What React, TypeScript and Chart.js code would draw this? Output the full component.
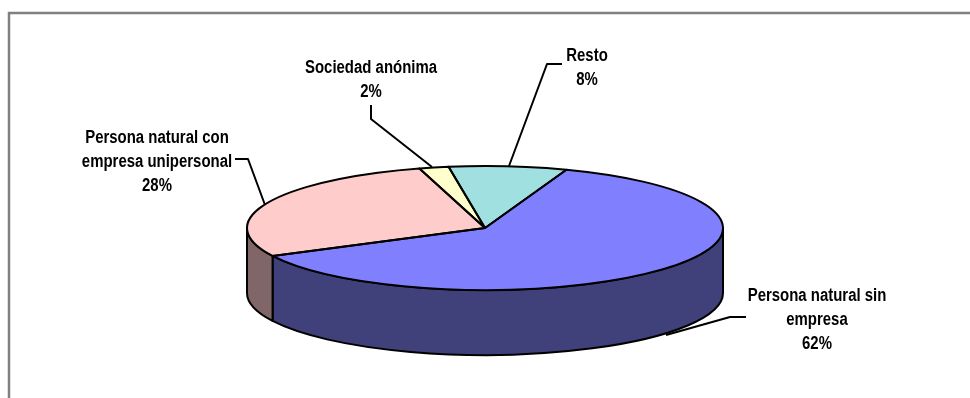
import React, { useEffect, useRef } from "react";
import { Chart, registerables } from "chart.js";

Chart.register(...registerables);

const categories = ["Persona natural sin empresa", "Persona natural con empresa unipersonal", "Sociedad anónima", "Resto"];
const labelLines = [["Persona natural sin", "empresa"], ["Persona natural con", "empresa unipersonal"], ["Sociedad anónima"], ["Resto"]];
const values = [62, 28, 2, 8];
const topColors = ["#8080FF", "#FFCCCC", "#FFFFCC", "#A0E0E0"];
const sideColors = ["#40407A", "#806666", "#808066", "#507070"];
const startRotation = 20;

const labelCenters = [[817, 296], [157, 138], [371, 68], [587, 56]];
const leaders = [
  [[746, 317], [730, 317], [666, 335]],
  [[235, 159], [248, 159], [265, 205]],
  [[371, 105], [371, 119], [432, 167]],
  [[562, 64], [547, 64], [509, 166]],
];

const CX = 485, CY = 228, RX = 238, RY = 62, DEPTH = 65;
const FONT = "bold 18px 'Liberation Sans', Arial, sans-serif";
const NARROW = 0.83;
const LINE_HEIGHT = 24;

const pie3d = {
  id: "pie3d",
  beforeDatasetsDraw(chart: any) {
    const { ctx } = chart;
    const arcs = chart.getDatasetMeta(0).data;
    // frame: the reference shows only its left and top edges
    ctx.save();
    ctx.strokeStyle = "#808080";
    ctx.lineWidth = 2.5;
    ctx.beginPath();
    ctx.moveTo(9, 398);
    ctx.lineTo(9, 13);
    ctx.lineTo(970, 13);
    ctx.stroke();
    // side walls
    ctx.lineWidth = 2;
    ctx.strokeStyle = "#000";
    ctx.lineJoin = "round";
    arcs.forEach((arc: any, i: number) => {
      const segs: [number, number][] = [];
      const a = arc.startAngle, b = arc.endAngle;
      for (const k of [0, 2 * Math.PI]) {
        const s = Math.max(a, k), e = Math.min(b, k + Math.PI);
        if (e > s) segs.push([s, e]);
      }
      segs.forEach(([s, e]) => {
        ctx.beginPath();
        ctx.ellipse(CX, CY, RX, RY, 0, s, e, false);
        ctx.ellipse(CX, CY + DEPTH, RX, RY, 0, e, s, true);
        ctx.closePath();
        ctx.fillStyle = sideColors[i];
        ctx.fill();
        ctx.stroke();
      });
    });
    ctx.restore();
    // squash the library's round pie to the tilted ellipse
    const ref = arcs[0];
    ctx.save();
    ctx.translate(CX, CY);
    ctx.scale(RX / ref.outerRadius, RY / ref.outerRadius);
    ctx.translate(-ref.x, -ref.y);
  },
  afterDatasetsDraw(chart: any) {
    const { ctx } = chart;
    ctx.restore();
    const arcs = chart.getDatasetMeta(0).data;
    ctx.save();
    ctx.strokeStyle = "#000";
    ctx.lineWidth = 2;
    ctx.lineJoin = "round";
    arcs.forEach((arc: any) => {
      ctx.beginPath();
      ctx.moveTo(CX, CY);
      ctx.ellipse(CX, CY, RX, RY, 0, arc.startAngle, arc.endAngle, false);
      ctx.closePath();
      ctx.stroke();
    });
    // leaders
    leaders.forEach((pts) => {
      ctx.beginPath();
      pts.forEach(([x, y], j) => (j ? ctx.lineTo(x, y) : ctx.moveTo(x, y)));
      ctx.stroke();
    });
    // labels
    ctx.fillStyle = "#000";
    ctx.font = FONT;
    ctx.textAlign = "center";
    ctx.textBaseline = "middle";
    const total = values.reduce((p, c) => p + c, 0);
    labelLines.forEach((lines, i) => {
      const [x, y] = labelCenters[i];
      const all = [...lines, `${Math.round((values[i] / total) * 100)}%`];
      all.forEach((t, j) => {
        ctx.save();
        ctx.translate(x, y + j * LINE_HEIGHT);
        ctx.scale(NARROW, 1);
        ctx.fillText(t, 0, 0);
        ctx.restore();
      });
    });
    ctx.restore();
  },
};

export default function App() {
  const ref = useRef<HTMLCanvasElement>(null);
  useEffect(() => {
    const chart = new Chart(ref.current!, {
      type: "pie",
      data: {
        labels: categories,
        datasets: [{ data: values, backgroundColor: topColors, borderWidth: 0, clip: false } as any],
      },
      options: {
        responsive: false,
        animation: false,
        rotation: startRotation,
        plugins: { legend: { display: false }, tooltip: { enabled: false } },
      },
      plugins: [pie3d],
    });
    return () => chart.destroy();
  }, []);
  return (
    <canvas
      ref={ref}
      width={970}
      height={398}
      style={{ position: "fixed", left: 0, top: 0, width: 970, height: 398, background: "#fff" }}
    />
  );
}
